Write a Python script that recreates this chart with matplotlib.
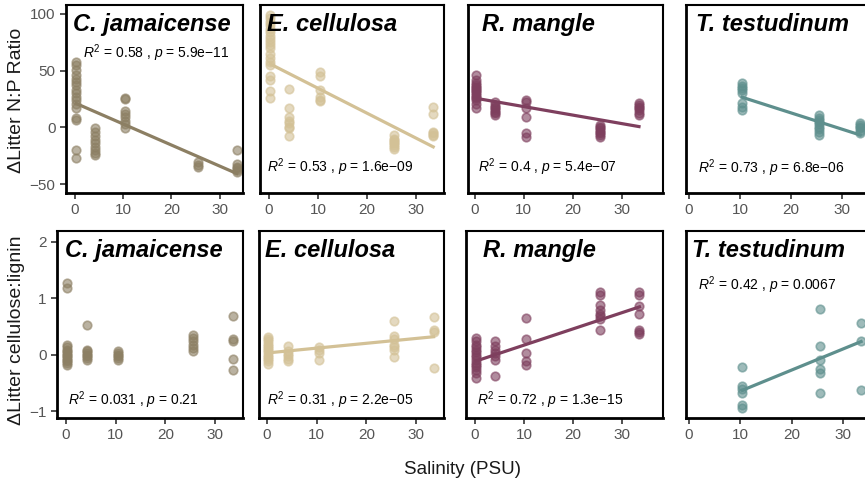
import matplotlib
matplotlib.use("Agg")
import matplotlib.pyplot as plt
import numpy as np

plt.rcParams["font.family"] = ["Liberation Sans", "DejaVu Sans"]
plt.rcParams["mathtext.fontset"] = "custom"
plt.rcParams["mathtext.rm"] = "Liberation Sans"
plt.rcParams["mathtext.it"] = "Liberation Sans:italic"

# -------------------------
# Data
# -------------------------
SPECIES = ["C. jamaicense", "E. cellulosa", "R. mangle", "T. testudinum"]
SALINITY = [0.3, 4.2, 10.4, 25.5, 33.5]
SALINITY_TT = [10.4, 25.5, 33.5]

# delta litter N:P ratio, one list per salinity level
cj_np = [
    [58, 55, 50.6, 46, 43, 40, 37, 33, 30, 27, 24, 21, 17, 8, 6.5, -20, -27],
    [-1, -4, -8, -11, -14, -17, -20, -23, -24],
    [26, 25, 14, 12, 9, 6, 3, -1],
    [-31, -33, -35],
    [-20, -32, -35, -36, -38, -39],
]
ec_np = [
    [99, 96, 93, 90, 87, 84, 81, 78, 75, 73, 70, 65, 61, 58, 55, 45, 42, 32, 26],
    [34, 17, 9, 6, 4, 0.6, -1, -8],
    [49, 45, 33, 27, 24, 23],
    [-7, -10, -11, -13, -14, -16, -17, -19],
    [18, 12, -4, -5, -7, -8],
]
rm_np = [
    [46, 42, 39, 37.6, 36, 34.7, 33, 31.8, 30, 28.8, 27, 25.9, 24, 21, 17],
    [22.6, 19.7, 18.2, 16.8, 15.3, 13.8, 12.4, 10.9],
    [24, 22.6, 16.8, 9.4, -5.3, -8.2],
    [2, 0.6, -0.9, -2.4, -3.8, -5.3, -6.8, -8.2],
    [21.8, 19.7, 18.2, 16.8, 15.3, 12.4, 10.9],
]
tt_np = [
    [38.8, 36.5, 34.4, 33, 30.6, 21.2, 18.2, 15.3],
    [10.9, 7.9, 6.5, 5, 2.9, 0.6, -1.8, -3.8, -6.8],
    [4.1, 2, 0.6, -0.9, -2.9, -4.7],
]

# delta litter cellulose:lignin
cj_cl = [
    [1.27, 1.18, 0.18, 0.14, 0.09, 0.06, 0.03, 0, -0.03, -0.06, -0.09, -0.12, -0.15, -0.18],
    [0.53, 0.09, 0.06, 0.03, 0, -0.03, -0.06, -0.09],
    [0.06, 0.03, 0, -0.03, -0.06, -0.09],
    [0.35, 0.30, 0.24, 0.18, 0.12, 0.06],
    [0.69, 0.27, 0.24, -0.08, -0.27],
]
ec_cl = [
    [0.32, 0.28, 0.24, 0.19, 0.16, 0.12, 0.08, 0.04, 0, -0.04, -0.08, -0.12, -0.16],
    [0.15, 0.06, 0.02, -0.03, -0.08, -0.12],
    [0.14, 0.08, 0.03, -0.09],
    [0.59, 0.34, 0.27, 0.18, 0.14, 0.09, -0.04],
    [0.66, 0.44, 0.40, -0.24],
]
rm_cl = [
    [0.30, 0.24, 0.18, 0.14, 0.09, 0.04, 0, -0.04, -0.09, -0.14, -0.18, -0.22, -0.27, -0.32, -0.41],
    [0.24, 0.16, 0.09, 0.03, -0.03, -0.09, -0.38],
    [0.65, 0.27, 0.03, -0.12, -0.18],
    [1.12, 1.06, 0.89, 0.80, 0.73, 0.68, 0.63, 0.43],
    [1.12, 1.06, 0.86, 0.73, 0.44, 0.40, 0.37],
]
tt_cl = [
    [-0.21, -0.55, -0.61, -0.68, -0.90, -0.94],
    [0.81, 0.16, -0.09, -0.25, -0.32, -0.68],
    [0.56, 0.24, -0.63],
]

# fitted lines (intercept, slope)
fit_np = [(21.6, -1.86), (56.5, -2.2), (25.8, -0.75), (41.5, -1.44)]
fit_cl = [None, (0.03, 0.0086), (-0.12, 0.0289), (-1.02, 0.0374)]

stats_np = [("0.58", "5.9e\u221211"), ("0.53", "1.6e\u221209"),
            ("0.4", "5.4e\u221207"), ("0.73", "6.8e\u221206")]
stats_cl = [("0.031", "0.21"), ("0.31", "2.2e\u221205"),
            ("0.72", "1.3e\u221215"), ("0.42", "0.0067")]

# -------------------------
# Visual settings
# -------------------------
COLORS = ["#8C7F63", "#D3C196", "#7E3F5E", "#5E8F8D"]
TICK_COLOR = "#555555"
W, H = 865, 488

# panel boxes in pixels (left, top, right, bottom)
TOP_BOXES = [(66, 5, 243, 193), (260, 5, 444, 193), (468, 5, 663, 193), (686, 5, 876, 193)]
BOT_BOXES = [(57, 231, 243, 418), (259, 231, 444, 418), (466, 231, 663, 418), (686, 231, 876, 418)]
TOP_XLIM = [(-1.8, 34.8), (-1.8, 35.7), (-1.4, 38.4), (-0.6, 36.6)]
BOT_XLIM = [(-1.8, 35.6), (-1.6, 35.6), (-1.8, 38.3), (-0.6, 36.4)]
TOP_TITLE_X = [0.04, 0.038, 0.072, 0.053]
BOT_TITLE_X = [0.043, 0.032, 0.086, 0.032]
TOP_STAT_POS = [(0.096, 0.745), (0.038, 0.138), (0.051, 0.138), (0.063, 0.133)]
BOT_STAT_POS = [(0.059, 0.096), (0.043, 0.096), (0.056, 0.096), (0.063, 0.711)]


def add_axes(fig, box):
    l, t, r, b = box
    return fig.add_axes([l / W, 1 - b / H, (r - l) / W, (b - t) / H])


def draw_panel(ax, levels, groups, fit, stat, color, title, title_x, stat_pos,
               xlim, ylim, yticks, show_y):
    xs = np.concatenate([[s] * len(g) for s, g in zip(levels, groups)])
    ys = np.concatenate([np.array(g, dtype=float) for g in groups])
    ax.scatter(xs, ys, s=38, color=color, alpha=0.6, edgecolors=color,
               linewidths=1.2, zorder=2)
    if fit is not None:
        xx = np.array([xs.min(), xs.max()])
        ax.plot(xx, fit[0] + fit[1] * xx, color=color, linewidth=2.3, zorder=3)

    ax.set_xlim(*xlim)
    ax.set_ylim(*ylim)
    ax.set_xticks([0, 10, 20, 30])
    ax.set_yticks(yticks)
    ax.tick_params(axis="both", direction="out", length=4, width=1.2,
                   colors="#333333", labelcolor=TICK_COLOR, labelsize=11)
    if not show_y:
        ax.tick_params(axis="y", left=False, labelleft=False)
    ax.set_yticklabels([str(v).replace("-", "\u2212") for v in yticks])

    for side, spine in ax.spines.items():
        spine.set_color("black")
        spine.set_linewidth(2.0 if side in ("left", "bottom") else 1.5)

    ax.text(title_x, 0.895, title, transform=ax.transAxes, fontsize=17,
            fontweight="bold", fontstyle="italic", ha="left", va="center")
    ax.text(stat_pos[0], stat_pos[1],
            r"$R^2$ = " + stat[0] + " , $p$ = " + stat[1],
            transform=ax.transAxes, fontsize=10, ha="left", va="center")


fig = plt.figure(figsize=(W / 100, H / 100), dpi=100)
fig.patch.set_facecolor("white")

np_groups = [cj_np, ec_np, rm_np, tt_np]
cl_groups = [cj_cl, ec_cl, rm_cl, tt_cl]

for i in range(4):
    levels = SALINITY_TT if i == 3 else SALINITY
    ax = add_axes(fig, TOP_BOXES[i])
    draw_panel(ax, levels, np_groups[i], fit_np[i], stats_np[i], COLORS[i],
               SPECIES[i], TOP_TITLE_X[i], TOP_STAT_POS[i], TOP_XLIM[i],
               (-57.9, 107.9), [-50, 0, 50, 100], i == 0)

    ax = add_axes(fig, BOT_BOXES[i])
    draw_panel(ax, levels, cl_groups[i], fit_cl[i], stats_cl[i], COLORS[i],
               SPECIES[i], BOT_TITLE_X[i], BOT_STAT_POS[i], BOT_XLIM[i],
               (-1.124, 2.195), [-1, 0, 1, 2], i == 0)

fig.text(17 / W, 1 - 100 / H, "\u0394Litter N:P Ratio", rotation=90,
         fontsize=14, ha="center", va="center", color="#1a1a1a")
fig.text(17 / W, 1 - 330 / H, "\u0394Litter cellulose:lignin", rotation=90,
         fontsize=14, ha="center", va="center", color="#1a1a1a")
fig.text(463 / W, 1 - 470 / H, "Salinity (PSU)", fontsize=13.5,
         ha="center", va="center", color="#1a1a1a")

fig.savefig("out.png", dpi=100)
plt.close(fig)
